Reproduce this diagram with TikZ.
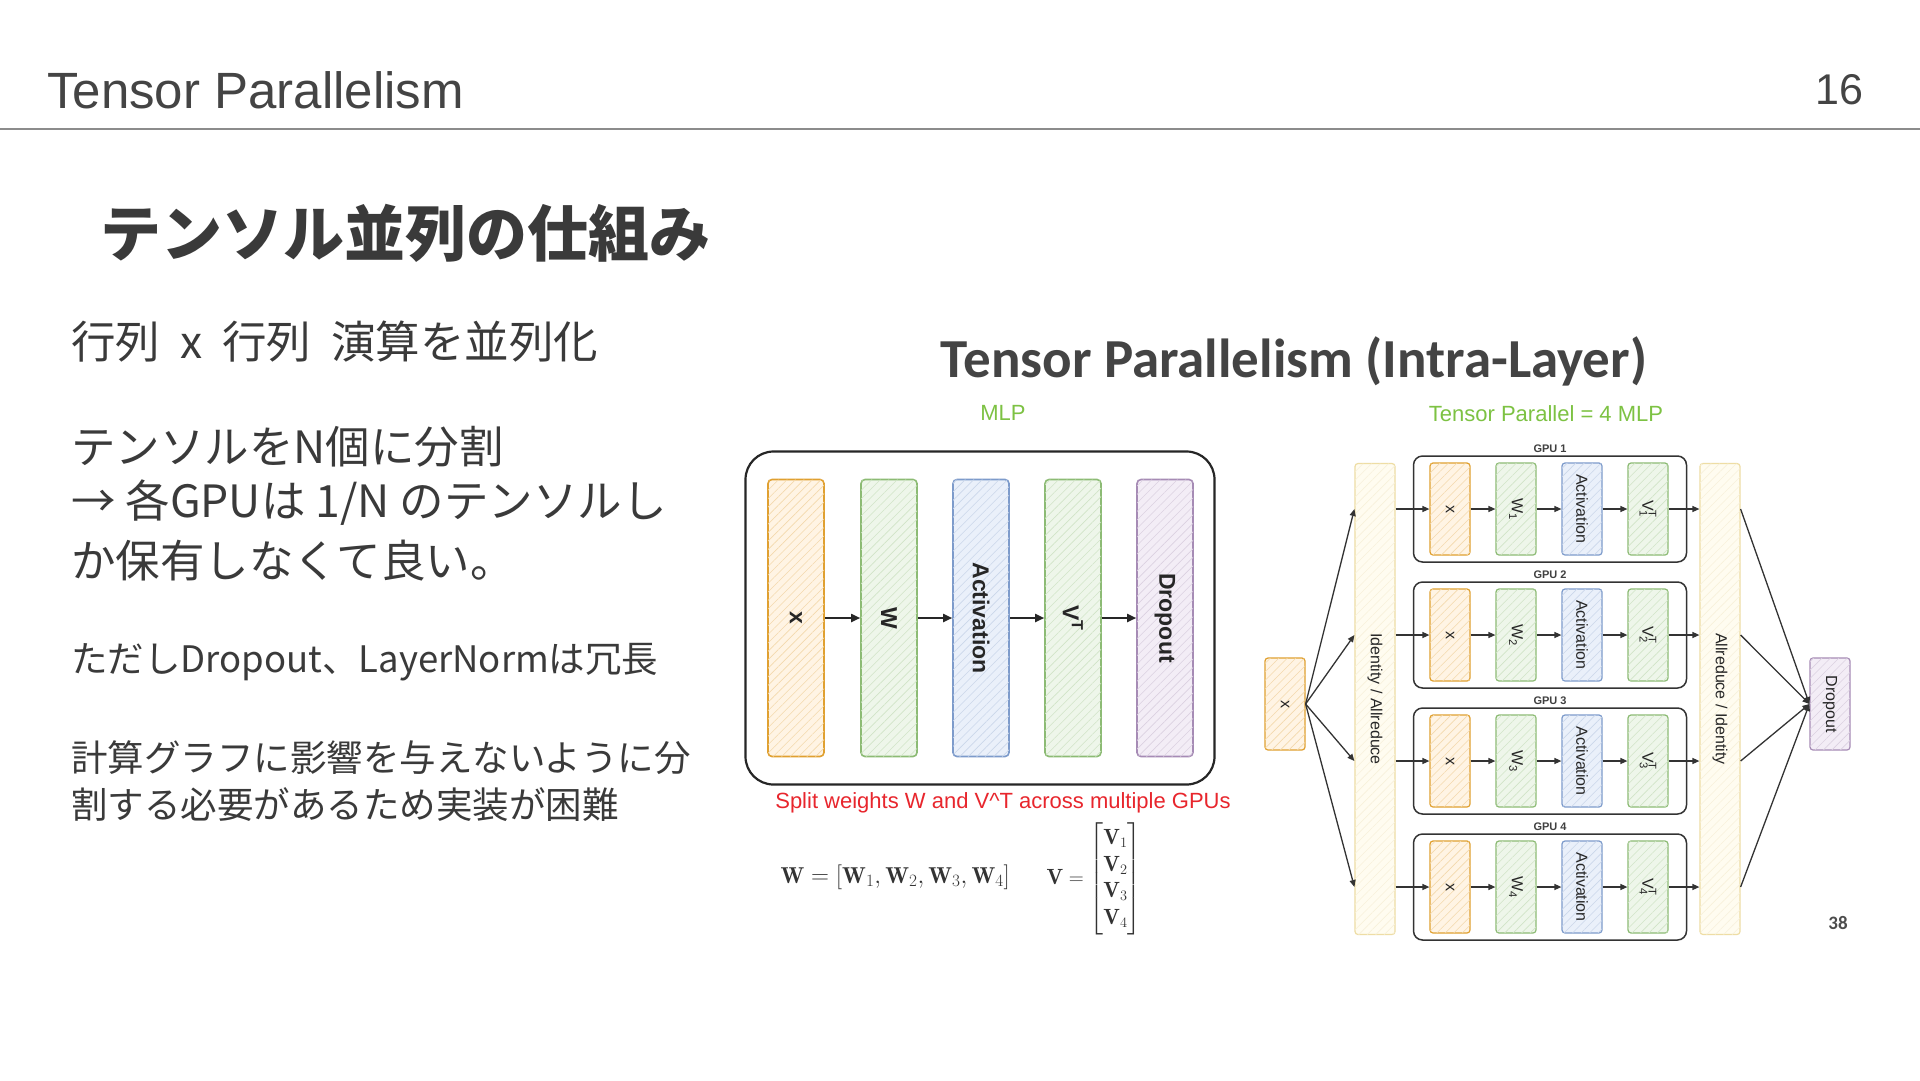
\documentclass[tikz,border=0pt]{standalone}
\usepackage{amsmath}
\usepackage{fontspec}
\newfontfamily\jpfont{Noto Sans CJK JP}
\newfontfamily\arialfont{Liberation Sans}
\newfontfamily\calfont{Carlito}
\usetikzlibrary{arrows.meta, positioning, patterns.meta}

\definecolor{hdrgray}{HTML}{444444}
\definecolor{txtgray}{HTML}{3A3A3A}
\definecolor{ruleg}{HTML}{8C8C8C}
\definecolor{mlpgreen}{HTML}{7DC243}
\definecolor{splitred}{HTML}{E8262D}
\definecolor{orline}{HTML}{E0A030}
\definecolor{orfill}{HTML}{FFF4E4}
\definecolor{grline}{HTML}{8CBB74}
\definecolor{grfill}{HTML}{EEF6EA}
\definecolor{blline}{HTML}{7D9BCB}
\definecolor{blfill}{HTML}{EAF0FA}
\definecolor{puline}{HTML}{A68BB5}
\definecolor{pufill}{HTML}{F3EDF6}
\definecolor{ylline}{HTML}{EEDDA4}
\definecolor{ylfill}{HTML}{FFFCF0}

\tikzset{
  hdr/.style={inner sep=0, text=hdrgray, font=\arialfont\fontsize{51}{60}\selectfont},
  jptitle/.style={inner sep=0, anchor=west, text=txtgray, font=\jpfont\bfseries\fontsize{61}{70}\selectfont},
  jpbody/.style={inner sep=0, anchor=west, text=txtgray, font=\jpfont\fontsize{44.5}{54}\selectfont},
  jpsmall/.style={inner sep=0, anchor=west, text=txtgray, font=\jpfont\fontsize{36.5}{46}\selectfont},
  hatch/.style={draw=#1line, fill=#1fill,
    postaction={pattern={Lines[angle=45,distance=6pt,line width=.6pt]}, pattern color=#1line!40}},
  mlpbox/.style={hatch=#1, rotate=-90, rounded corners=4pt, line width=1.6pt,
    minimum width=277, minimum height=56, inner sep=0, text=black!85,
    font=\arialfont\bfseries\fontsize{23}{26}\selectfont},
  tpbox/.style={hatch=#1, rotate=-90, rounded corners=3pt, line width=1.2pt,
    minimum width=92, minimum height=40, inner sep=0, text=black!85,
    font=\arialfont\fontsize{16}{18}\selectfont},
  gpubox/.style={draw=black!80, line width=1.5pt, rounded corners=9pt,
    minimum width=273, minimum height=106},
  gpulab/.style={inner sep=0, label distance=2pt, text=black!75,
    font=\arialfont\bfseries\fontsize{11}{12}\selectfont},
  flow/.style={-{Triangle[length=9pt,width=8pt]}, line width=1.8pt, black!85},
  tpflow/.style={-{Triangle[length=7pt,width=6pt]}, line width=1.3pt, black!80},
  greenlab/.style={text=mlpgreen, font=\arialfont\fontsize{22}{26}\selectfont}
}

\begin{document}
\begin{tikzpicture}[x=1pt, y=-1pt]
\useasboundingbox (0,0) rectangle (1920,1080);
\fill[white] (0,0) rectangle (1920,1080);

% slide header
\node[hdr, anchor=base west] (hdrtitle) at (47,108) {Tensor Parallelism};
\node[hdr, anchor=base east, font=\arialfont\fontsize{43}{52}\selectfont] (pgnum) at (1864,104) {16};
\draw[ruleg, line width=2.5pt] (0,129) -- (1920,129);

% left text
\node[jptitle] (ttl) at (100,233) {テンソル並列の仕組み};
\node[jpbody] (l1) at (71,342) {行列\hspace{.45em}x\hspace{.45em}行列\hspace{.45em}演算を並列化};
\node[jpbody] (l2) at (71,447) {テンソルをN個に分割};
\node[jpbody] (l3) at (71,503) {→ 各GPUは 1/N のテンソルし};
\node[jpbody] (l4) at (71,561) {か保有しなくて良い。};
\node[jpsmall] (l5) at (71,662) {ただしDropout、LayerNormは冗長};
\node[jpsmall] (l6) at (71,758) {計算グラフに影響を与えないように分};
\node[jpsmall] (l7) at (71,805) {割する必要があるため実装が困難};

% figure
\node[text=hdrgray, font=\calfont\bfseries\fontsize{55}{60}\selectfont] (figttl) at (1294,361) {Tensor Parallelism (Intra-Layer)};
\node[greenlab] (mlplab) at (1003,413) {MLP};
\node[greenlab] (tplab) at (1546,414) {Tensor Parallel = 4 MLP};

% single MLP
\node[draw=black!85, line width=2.2pt, rounded corners=28pt, minimum width=469, minimum height=333] (mlp) at (980,618) {};
\node[mlpbox=or] (mx) at (796,618) {x};
\node[mlpbox=gr] (mw) at (889,618) {W};
\node[mlpbox=bl] (ma) at (981,618) {Activation};
\node[mlpbox=gr] (mv) at (1073,618) {V\textsuperscript{T}};
\node[mlpbox=pu] (md) at (1165,618) {Dropout};
\draw[flow] (mx.north) -- (mw.south);
\draw[flow] (mw.north) -- (ma.south);
\draw[flow] (ma.north) -- (mv.south);
\draw[flow] (mv.north) -- (md.south);

\node[text=splitred, font=\arialfont\fontsize{22}{26}\selectfont] (splitnote) at (1003,803) {Split weights W and V\textasciicircum T across multiple GPUs};
\node[anchor=west, text=black!80, font=\fontsize{23}{27}\selectfont] (wsplit) at (777,877)
  {$\mathbf{W}=[\mathbf{W}_1,\mathbf{W}_2,\mathbf{W}_3,\mathbf{W}_4]$};
\node[anchor=west, text=black!80, font=\fontsize{22}{26.5}\selectfont] (vsplit) at (1043,879)
  {$\mathbf{V}=\begin{bmatrix}\mathbf{V}_1\\ \mathbf{V}_2\\ \mathbf{V}_3\\ \mathbf{V}_4\end{bmatrix}$};

% tensor parallel MLP
\node[tpbox=or] (rx) at (1285,704) {x};
\node[tpbox=yl, minimum width=471] (idn) at (1375,699) {Identity / Allreduce};
\node[tpbox=yl, minimum width=471] (arr) at (1720,699) {Allreduce / Identity};
\node[tpbox=pu] (rdrop) at (1830,704) {Dropout};
\foreach \i in {1,...,4}{
  \pgfmathsetmacro{\ry}{509+126*(\i-1)}
  \node[gpubox, label={[gpulab]above:GPU \i}] (g\i) at (1550,\ry) {};
  \node[tpbox=or] (gx\i) at (1450,\ry) {x};
  \node[tpbox=gr] (gw\i) at (1516,\ry) {W\textsubscript{\i}};
  \node[tpbox=bl] (ga\i) at (1582,\ry) {Activation};
  \node[tpbox=gr] (gv\i) at (1648,\ry) {V\rlap{\textsuperscript{T}}\textsubscript{\i}};
  \draw[tpflow] (rx.north) -- (idn.south |- g\i.center);
  \draw[tpflow] (idn.north |- g\i.center) -- (gx\i.south);
  \draw[tpflow] (gx\i.north) -- (gw\i.south);
  \draw[tpflow] (gw\i.north) -- (ga\i.south);
  \draw[tpflow] (ga\i.north) -- (gv\i.south);
  \draw[tpflow] (gv\i.north) -- (arr.south |- g\i.center);
  \draw[tpflow] (arr.north |- g\i.center) -- (rdrop.south);
}
\node[text=black!70, font=\calfont\bfseries\fontsize{19}{22}\selectfont] (slidenum) at (1838,923) {38};
\end{tikzpicture}
\end{document}
